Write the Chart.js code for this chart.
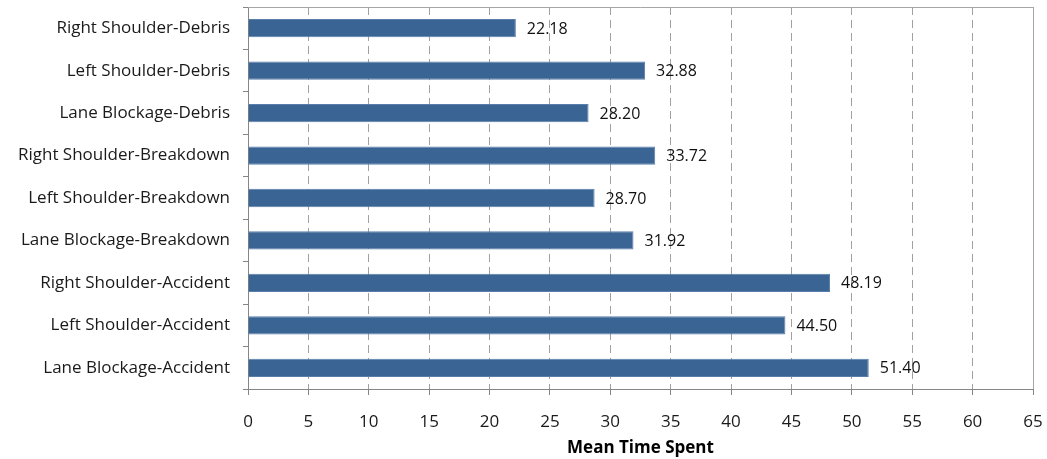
<!DOCTYPE html>
<html>
<head>
<meta charset="utf-8">
<script src="https://cdn.jsdelivr.net/npm/chart.js@4/dist/chart.umd.min.js"></script>
<style>
    html, body { margin: 0; padding: 0; background: #fff; }
    #wrap { width: 1047px; height: 459px; position: relative; }
</style>
</head>
<body>
<div id="wrap"><canvas id="chart"></canvas></div>
<script>
// Datos del gráfico
const categories = [
    'Right Shoulder-Debris',
    'Left Shoulder-Debris',
    'Lane Blockage-Debris',
    'Right Shoulder-Breakdown',
    'Left Shoulder-Breakdown',
    'Lane Blockage-Breakdown',
    'Right Shoulder-Accident',
    'Left Shoulder-Accident',
    'Lane Blockage-Accident'
];
const meanTime = [22.18, 32.88, 28.20, 33.72, 28.70, 31.92, 48.19, 44.50, 51.40];
const xTicks = [0, 5, 10, 15, 20, 25, 30, 35, 40, 45, 50, 55, 60, 65];
const xTitle = 'Mean Time Spent';

const FONT = '"Open Sans", "Noto Sans", sans-serif';

// Etiquetas de valor al final de cada barra
const valueLabels = {
    id: 'valueLabels',
    afterDatasetsDraw(chart) {
        const ctx = chart.ctx;
        const meta = chart.getDatasetMeta(0);
        ctx.save();
        ctx.font = '16px ' + FONT;
        ctx.fillStyle = '#111';
        ctx.textBaseline = 'middle';
        ctx.textAlign = 'left';
        meta.data.forEach((bar, i) => {
            ctx.fillText(meanTime[i].toFixed(2), bar.x + 11, bar.y + 1);
        });
        ctx.restore();
    }
};

// Marco superior y derecho del área de trazado
const plotFrame = {
    id: 'plotFrame',
    beforeDatasetsDraw(chart) {
        const a = chart.chartArea;
        const ctx = chart.ctx;
        ctx.save();
        ctx.strokeStyle = '#a6a6a6';
        ctx.lineWidth = 1;
        ctx.beginPath();
        ctx.moveTo(a.left, a.top + 0.5);
        ctx.lineTo(a.right + 0.5, a.top + 0.5);
        ctx.lineTo(a.right + 0.5, a.bottom);
        ctx.stroke();
        ctx.restore();
    }
};

new Chart(document.getElementById('chart'), {
    type: 'bar',
    data: {
        labels: categories,
        datasets: [{
            data: meanTime,
            backgroundColor: '#3a6494',
            borderColor: '#5a7eab',
            borderWidth: 1,
            categoryPercentage: 1,
            barPercentage: 0.43
        }]
    },
    options: {
        indexAxis: 'y',
        responsive: true,
        maintainAspectRatio: false,
        animation: false,
        layout: {
            padding: { top: 7, right: 14, left: 0, bottom: 0 }
        },
        plugins: {
            legend: { display: false },
            tooltip: { enabled: false }
        },
        scales: {
            x: {
                min: 0,
                max: 65,
                afterBuildTicks(scale) {
                    scale.ticks = xTicks.map(v => ({ value: v }));
                },
                afterFit(scale) {
                    scale.height = 70;
                    scale.paddingLeft = 0;
                    scale.paddingRight = 0;
                },
                ticks: {
                    color: '#1a1a1a',
                    font: { family: FONT, size: 17 },
                    padding: 17,
                    maxRotation: 0
                },
                grid: {
                    color: (c) => c.index === 0 ? '#868686' : '#a0a0a0',
                    tickColor: '#868686',
                    tickLength: 6,
                    tickBorderDash: []
                },
                border: {
                    display: true,
                    color: '#868686',
                    dash: [8, 5]
                },
                title: {
                    display: true,
                    text: xTitle,
                    color: '#000',
                    font: { family: FONT, size: 17, weight: 'bold' },
                    padding: { top: 2, bottom: 1 }
                }
            },
            y: {
                afterFit(scale) {
                    scale.width = 248;
                    scale.paddingTop = 0;
                    scale.paddingBottom = 0;
                },
                ticks: {
                    color: '#1a1a1a',
                    font: { family: FONT, size: 17 },
                    padding: 13
                },
                grid: {
                    offset: true,
                    drawOnChartArea: false,
                    tickColor: '#868686',
                    tickLength: 5
                },
                border: {
                    display: true,
                    color: '#868686'
                }
            }
        }
    },
    plugins: [valueLabels, plotFrame]
});
</script>
</body>
</html>
